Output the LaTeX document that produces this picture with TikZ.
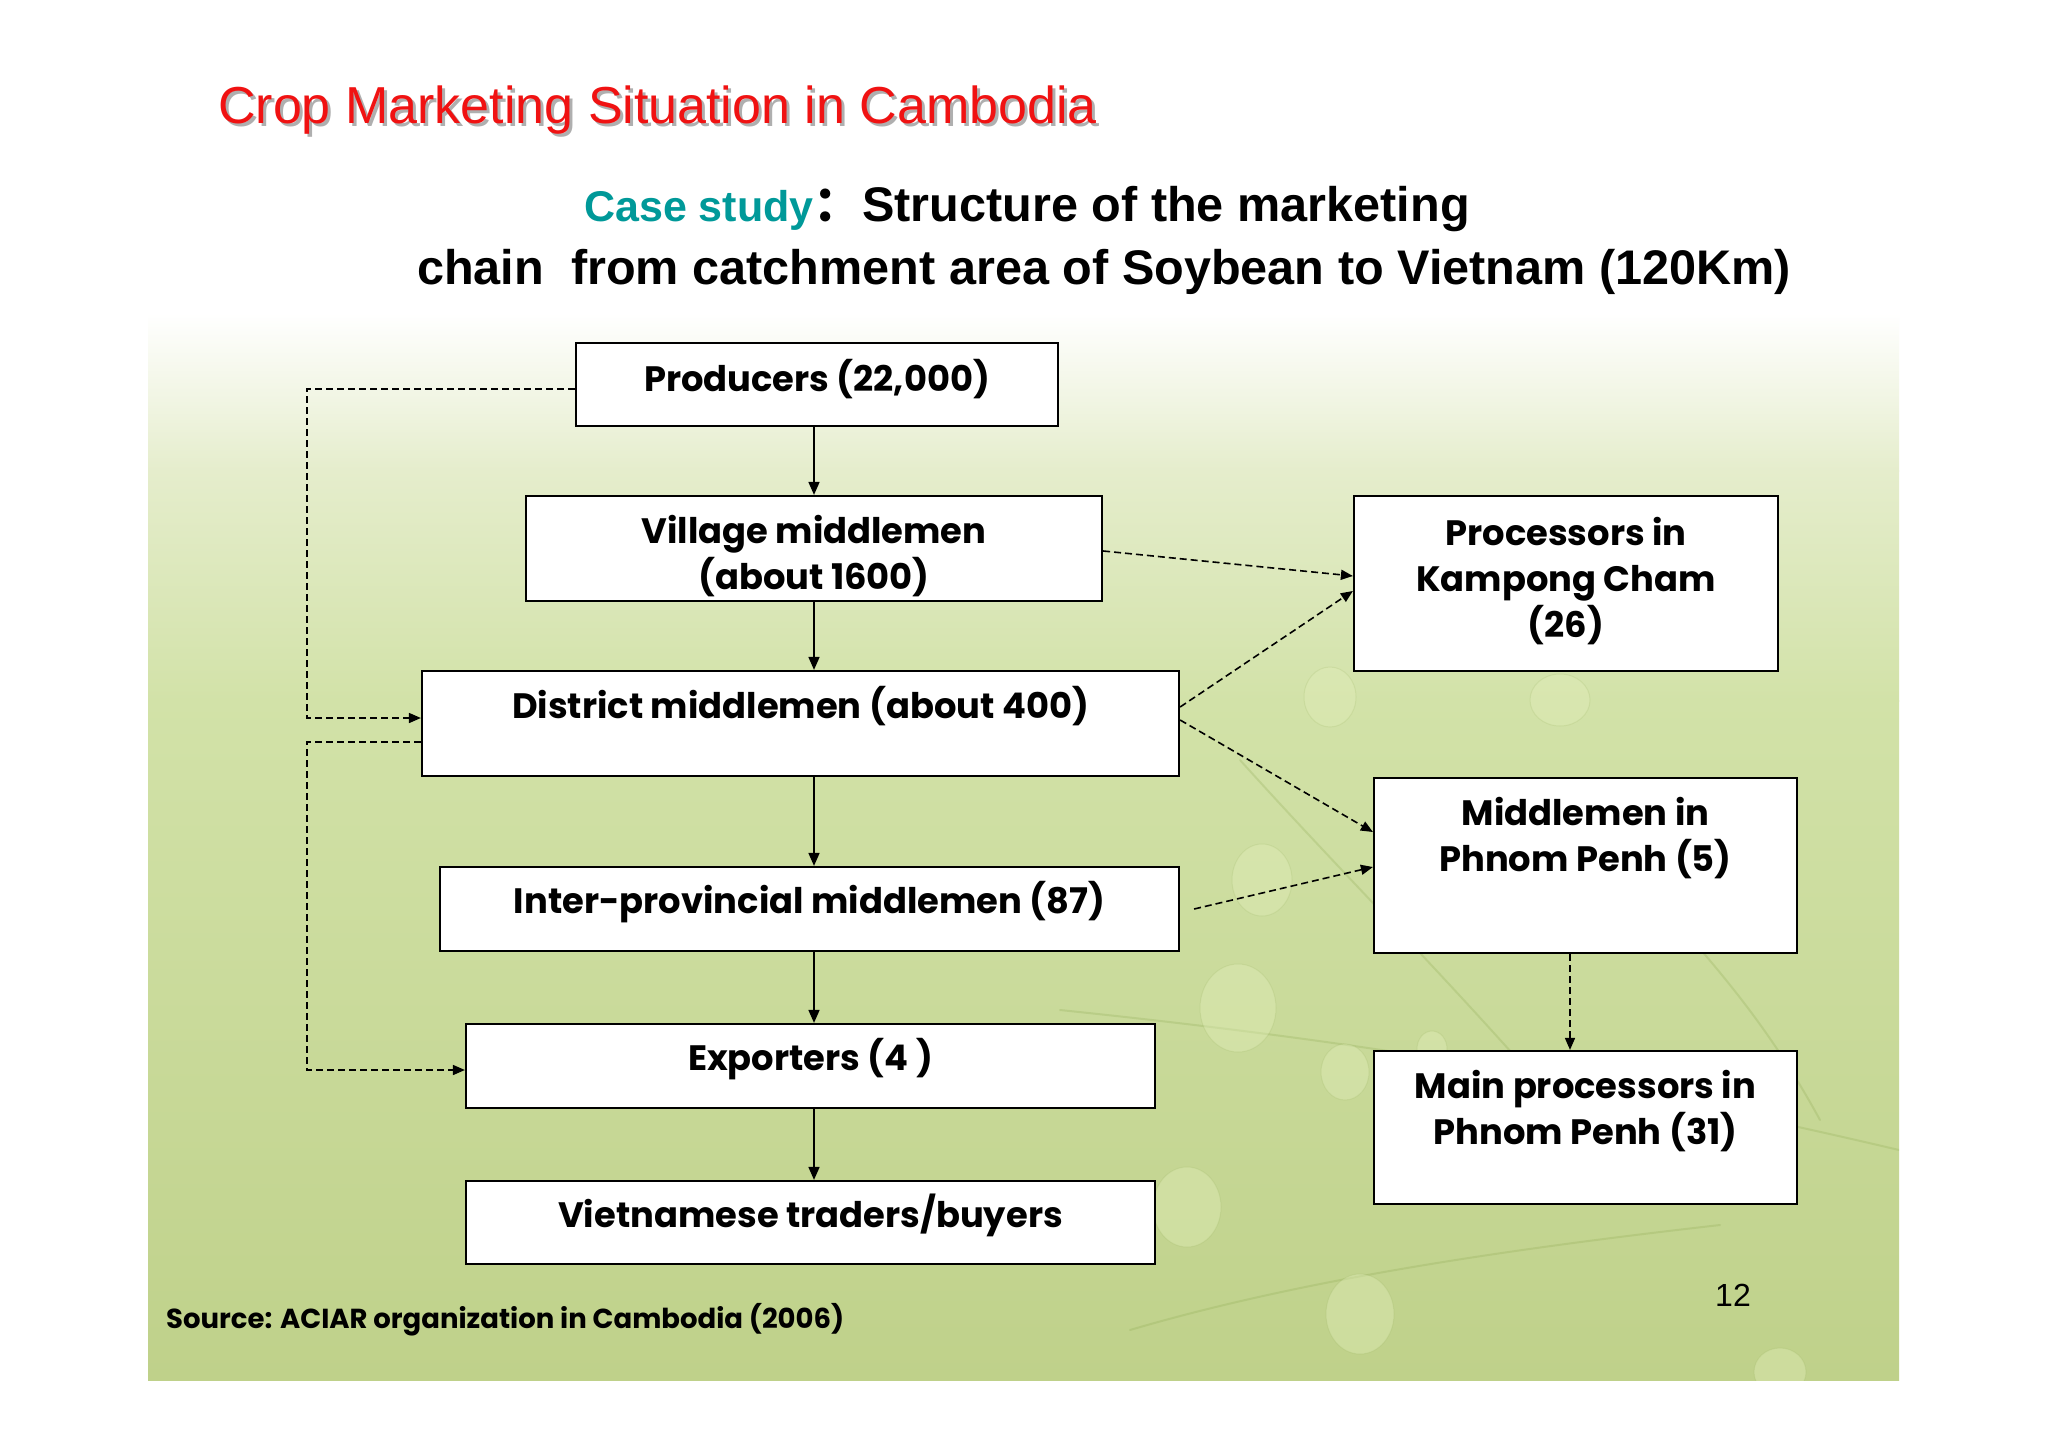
\documentclass[tikz,border=0pt]{standalone}
\usepackage{fontspec}
\setmainfont{Liberation Sans}
\newfontfamily\gfont{Poppins}
\newfontfamily\cjk{Noto Sans CJK SC}
\usetikzlibrary{arrows.meta}
\definecolor{titlered}{RGB}{240,18,18}
\definecolor{shadowgray}{RGB}{175,175,175}
\definecolor{casecol}{RGB}{0,153,153}
\definecolor{bgA}{RGB}{229,237,204}
\definecolor{bgB}{RGB}{210,226,168}
\definecolor{bgC}{RGB}{191,209,138}
\definecolor{veincol}{RGB}{140,168,80}
\definecolor{dropcol}{RGB}{226,238,186}
\newcommand{\bxt}[2]{\raisebox{#1}[\height][\depth]{\begin{tabular}{@{}c@{}}#2\end{tabular}}}
\tikzset{
  box/.style={draw=black, line width=2.2pt, fill=white, inner sep=0pt,
    font=\gfont\bfseries\fontsize{35.3}{46}\selectfont},
  plain/.style={inner sep=0pt, anchor=base west},
  solidarr/.style={line width=1.6pt, -{Triangle[length=13pt,width=11pt]}},
  dasharr/.style={line width=1.6pt, dash pattern=on 7pt off 4pt,
    -{Triangle[length=12pt,width=10pt]}},
  vein/.style={draw=veincol, line width=2pt, opacity=0.25, line cap=round},
  drop/.style={fill=dropcol, fill opacity=0.4, draw=veincol, draw opacity=0.15, line width=1pt},
}
\begin{document}
\begin{tikzpicture}[x=1pt,y=-1pt]
\useasboundingbox (0,0) rectangle (2048,1447);
\fill[white] (0,0) rectangle (2048,1447);
% background
\shade[top color=white, bottom color=bgA] (148,313) rectangle (1899,471);
\shade[top color=bgA, bottom color=bgB] (148,470) rectangle (1899,701);
\shade[top color=bgB, bottom color=bgC] (148,700) rectangle (1899,1380);
% faint leaf texture
\begin{scope}
\clip (148,470) rectangle (1899,1380);
\draw[vein] (1060,1010) .. controls (1300,1035) and (1560,1070) .. (1899,1150);
\draw[vein] (1240,760) .. controls (1330,860) and (1420,950) .. (1520,1062);
\draw[vein] (1640,880) .. controls (1700,950) and (1760,1010) .. (1820,1120);
\draw[vein] (1130,1330) .. controls (1300,1280) and (1500,1250) .. (1720,1225);
\draw[drop] (1330,697) ellipse (26 and 30);
\draw[drop] (1262,880) ellipse (30 and 36);
\draw[drop] (1238,1008) ellipse (38 and 44);
\draw[drop] (1345,1072) ellipse (24 and 28);
\draw[drop] (1187,1207) ellipse (34 and 40);
\draw[drop] (1360,1314) ellipse (34 and 40);
\draw[drop] (1432,1049) ellipse (15 and 18);
\draw[drop] (1560,700) ellipse (30 and 26);
\draw[drop] (1780,1372) ellipse (26 and 24);
\end{scope}

% title
\node[plain, text=shadowgray, font=\fontsize{52}{60}\selectfont] (titleshadow) at (221,127) {Crop Marketing Situation in Cambodia};
\node[plain, text=titlered, font=\fontsize{52}{60}\selectfont] (title) at (218,124) {Crop Marketing Situation in Cambodia};

\node[plain, font=\bfseries\fontsize{48.6}{58}\selectfont] (sub1) at (584,222)
  {{\color{casecol}\fontsize{43}{50}\selectfont Case study}{\cjk\bfseries ：}Structure of the marketing};
\node[plain, font=\bfseries\fontsize{48.6}{58}\selectfont] (sub2) at (417,285)
  {chain~~from catchment area of Soybean to Vietnam (120Km)};

% boxes
\node[box, minimum width=482pt, minimum height=83pt] (prod) at (817,384.5) {\bxt{2.5pt}{Producers (22,000)}};
\node[box, minimum width=576pt, minimum height=105pt] (vil) at (814,548.5) {\bxt{-8.5pt}{Village middlemen\\(about 1600)}};
\node[box, minimum width=757pt, minimum height=105pt] (dist) at (800.5,723.5) {\bxt{14.5pt}{District middlemen (about 400)}};
\node[box, minimum width=739pt, minimum height=84pt] (inter) at (809.5,909) {\bxt{4.5pt}{Inter-provincial middlemen (87)}};
\node[box, minimum width=689pt, minimum height=84pt] (exp) at (810.5,1066) {\bxt{5pt}{Exporters (4 )}};
\node[box, minimum width=689pt, minimum height=83pt] (viet) at (810.5,1222.5) {\bxt{4.5pt}{Vietnamese traders/buyers}};
\node[box, minimum width=424pt, minimum height=175pt] (proc) at (1566,583.5) {\bxt{1.5pt}{Processors in\\Kampong Cham\\(26)}};
\node[box, minimum width=423pt, minimum height=175pt] (mpp) at (1585.5,865.5) {\bxt{26.5pt}{Middlemen in\\Phnom Penh (5)}};
\node[box, minimum width=423pt, minimum height=153pt] (mainp) at (1585.5,1127.5) {\bxt{15.5pt}{Main processors in\\Phnom Penh (31)}};

% solid chain
\draw[solidarr] (prod.south -| vil.south) -- (vil.north);
\draw[solidarr] (vil.south) -- (vil.south |- dist.north);
\draw[solidarr] (dist.south -| vil.south) -- (vil.south |- inter.north);
\draw[solidarr] (inter.south -| vil.south) -- (vil.south |- exp.north);
\draw[solidarr] (exp.south -| vil.south) -- (vil.south |- viet.north);

% left dashed loops
\coordinate (lx) at (307,0);
\coordinate (pw) at ([yshift=-4.5pt]prod.west);
\coordinate (dinc) at ([yshift=5.5pt]dist.west);
\coordinate (dout) at ([yshift=-18.5pt]dist.west);
\coordinate (einc) at ([yshift=-4pt]exp.west);
\draw[dasharr] (pw) -| (lx |- dinc) -- (dinc);
\draw[dasharr] (dout) -| (lx |- einc) -- (einc);

% right dashed
\draw[dasharr] ([yshift=-2.5pt]vil.east) -- ([yshift=7.5pt]proc.west);
\draw[dasharr] ([yshift=16.5pt]dist.east) -- ([yshift=-7.5pt]proc.west);
\draw[dasharr] ([yshift=3.5pt]dist.east) -- ([yshift=33.5pt]mpp.west);
\draw[dasharr] ([xshift=14pt]inter.east) -- ([yshift=-1.5pt]mpp.west);
\draw[dasharr] ([xshift=-15.5pt]mpp.south) -- ([xshift=-15.5pt]mainp.north);

% footer
\node[plain, font=\gfont\bfseries\fontsize{27.5}{32}\selectfont] (src) at (166,1328) {Source: ACIAR organization in Cambodia (2006)};
\node[plain, font=\fontsize{32}{38}\selectfont] (pnum) at (1715,1306) {12};
\end{tikzpicture}
\end{document}
